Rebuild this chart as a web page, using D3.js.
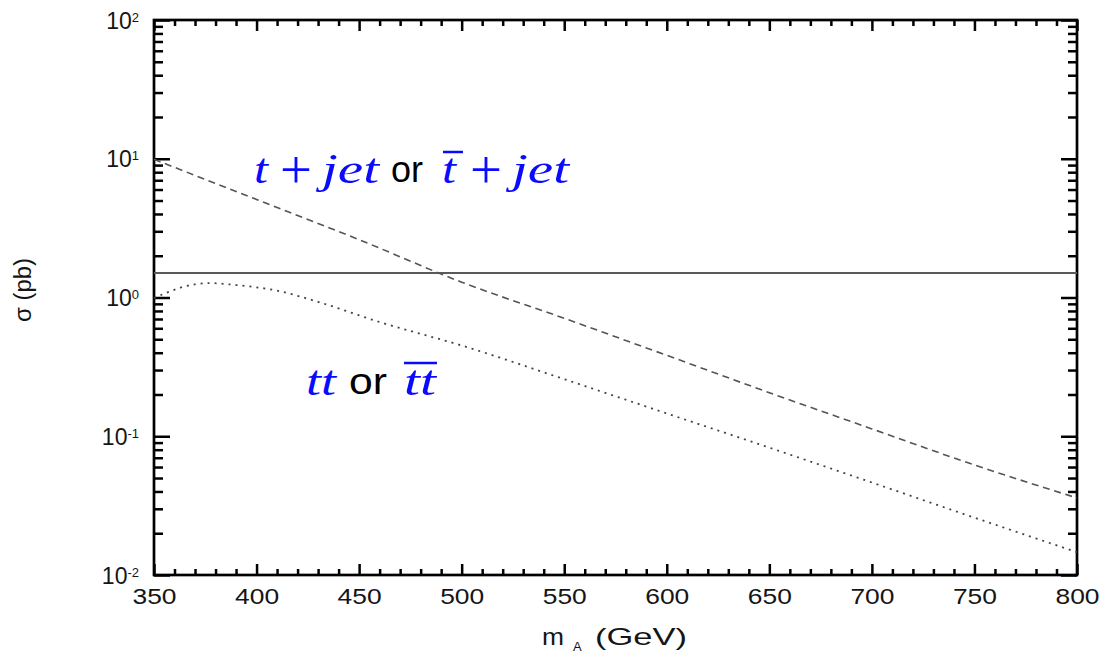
<!DOCTYPE html>
<html>
<head>
<meta charset="utf-8">
<script src="https://cdn.jsdelivr.net/npm/d3@7"></script>
<style>
	body { margin: 0; background: #fff; }
	svg { display: block; }
	text { font-family: "Liberation Sans", Arial, sans-serif; }
</style>
</head>
<body>
<svg id="plot" width="1101" height="656" viewBox="0 0 1101 656"></svg>
<script>

// t + jet (dashed)
const M_TJET = [350, 400, 450, 500, 550, 600, 650, 700, 750, 800];
const SIGMA_TJET = [9.9, 5.09, 2.61, 1.29, 0.708, 0.383, 0.206, 0.113, 0.0621, 0.0359];

// tt (dotted)
const M_TT = [350, 356, 364, 377, 390, 410, 430, 460, 500, 550, 600, 650, 700, 750, 800];
const SIGMA_TT = [0.99, 1.08, 1.19, 1.27, 1.23, 1.12, 0.93, 0.665, 0.451, 0.258, 0.146, 0.0828, 0.0464, 0.0259, 0.0146];

// horizontal reference line
const SIGMA_REF = 1.5;

const X_MAJOR = [350, 400, 450, 500, 550, 600, 650, 700, 750, 800];
const Y_EXPONENTS = [2, 1, 0, -1, -2];

const svg = d3.select('#plot');

const plot_left = 154, plot_right = 1077, plot_top = 20, plot_bottom = 575;

const x = d3.scaleLinear().domain([350, 800]).range([plot_left, plot_right]);
const y = d3.scaleLog().domain([0.01, 100]).range([plot_bottom, plot_top]);

// minor ticks
const x_minor = d3.range(350, 801, 10).filter(v => v % 50 !== 0);
const y_minor = [];
Y_EXPONENTS.slice(1).forEach(e => {
	for (let k = 2; k <= 9; k++) y_minor.push(k * Math.pow(10, e));
});
const y_major = Y_EXPONENTS.map(e => Math.pow(10, e));

function styleTicks(g) {
	g.select('.domain').remove();
	g.selectAll('.tick line').attr('stroke', '#000').attr('stroke-width', 2.5);
}

// bottom
svg.append('g').attr('transform', `translate(0,${plot_bottom})`)
	.call(d3.axisBottom(x).tickValues(x_minor).tickSize(-6).tickFormat(''))
	.call(styleTicks);
const xAxis = svg.append('g').attr('transform', `translate(0,${plot_bottom})`)
	.call(d3.axisBottom(x).tickValues(X_MAJOR).tickSize(-11).tickFormat(d3.format('d')))
	.call(styleTicks);
xAxis.selectAll('.tick text')
	.attr('y', 29).attr('dy', 0)
	.attr('fill', '#151515')
	.style('font-size', '22px')
	.attr('transform', 'scale(1.2,1)');

// top
svg.append('g').attr('transform', `translate(0,${plot_top})`)
	.call(d3.axisTop(x).tickValues(x_minor).tickSize(-6).tickFormat(''))
	.call(styleTicks);
svg.append('g').attr('transform', `translate(0,${plot_top})`)
	.call(d3.axisTop(x).tickValues(X_MAJOR).tickSize(-11).tickFormat(''))
	.call(styleTicks);

// left
svg.append('g').attr('transform', `translate(${plot_left},0)`)
	.call(d3.axisLeft(y).tickValues(y_minor).tickSize(-9).tickFormat(''))
	.call(styleTicks);
const yAxis = svg.append('g').attr('transform', `translate(${plot_left},0)`)
	.call(d3.axisLeft(y).tickValues(y_major).tickSize(-16).tickFormat(''))
	.call(styleTicks);
yAxis.selectAll('.tick text').remove();
yAxis.selectAll('.tick').each(function(d) {
	const t = d3.select(this).append('text')
		.attr('x', -15).attr('y', 8)
		.attr('text-anchor', 'end')
		.attr('fill', '#151515');
	t.append('tspan').style('font-size', '23px').text('10');
	t.append('tspan').style('font-size', '13px').attr('dy', -7)
		.text(Math.round(Math.log10(d)));
});

// right
svg.append('g').attr('transform', `translate(${plot_right},0)`)
	.call(d3.axisRight(y).tickValues(y_minor).tickSize(-9).tickFormat(''))
	.call(styleTicks);
svg.append('g').attr('transform', `translate(${plot_right},0)`)
	.call(d3.axisRight(y).tickValues(y_major).tickSize(-16).tickFormat(''))
	.call(styleTicks);

// frame
svg.append('rect')
	.attr('x', plot_left).attr('y', plot_top)
	.attr('width', plot_right - plot_left).attr('height', plot_bottom - plot_top)
	.attr('fill', 'none').attr('stroke', '#000').attr('stroke-width', 2.7);

// reference line
svg.append('line')
	.attr('x1', x(350)).attr('x2', x(800))
	.attr('y1', y(SIGMA_REF)).attr('y2', y(SIGMA_REF))
	.attr('stroke', '#5a5a5a').attr('stroke-width', 2);

const line = d3.line()
	.x(d => x(d.m))
	.y(d => y(d.s))
	.curve(d3.curveMonotoneX);

const tjet = M_TJET.map((m, i) => ({m: m, s: SIGMA_TJET[i]}));
const tt = M_TT.map((m, i) => ({m: m, s: SIGMA_TT[i]}));

svg.append('path').datum(tjet)
	.attr('d', line)
	.attr('fill', 'none')
	.attr('stroke', '#555')
	.attr('stroke-width', 1.6)
	.attr('stroke-dasharray', '7,4.7');

svg.append('path').datum(tt)
	.attr('d', line)
	.attr('fill', 'none')
	.attr('stroke', '#444')
	.attr('stroke-width', 1.8)
	.attr('stroke-dasharray', '2,5');

// annotations
const blue = '#0a0aff';
const mathFont = '"Liberation Serif", "DejaVu Serif", serif';

function piece(txt, px, py, opts) {
	const t = svg.append('text')
		.attr('x', px).attr('y', py)
		.attr('fill', opts.color)
		.style('font-family', opts.font)
		.style('font-size', opts.size + 'px')
		.style('font-style', opts.italic ? 'italic' : 'normal')
		.text(txt);
	if (opts.len) t.attr('textLength', opts.len).attr('lengthAdjust', 'spacingAndGlyphs');
	return t;
}
const mathIt = {color: blue, font: mathFont, size: 42, italic: true};
const plus = {color: blue, font: mathFont, size: 54, italic: false};
const word = {color: '#000', font: '"Liberation Sans", sans-serif', size: 36, italic: false};

// t + jet or tbar + jet
piece('t', 254, 183, Object.assign({}, mathIt, {len: 14}));
piece('+', 280, 188, Object.assign({}, plus, {len: 32}));
piece('jet', 322, 183, Object.assign({}, mathIt, {len: 57}));
piece('or', 391, 182, Object.assign({}, word, {len: 32}));
piece('t', 442, 183, Object.assign({}, mathIt, {len: 14}));
piece('+', 470, 188, Object.assign({}, plus, {len: 32}));
piece('jet', 512, 183, Object.assign({}, mathIt, {len: 57}));
svg.append('line').attr('x1', 443).attr('x2', 463).attr('y1', 152).attr('y2', 152)
	.attr('stroke', blue).attr('stroke-width', 2.5);

// tt or tt-bar
piece('tt', 306, 395, Object.assign({}, mathIt, {len: 30}));
piece('or', 349, 394, Object.assign({}, word, {len: 38}));
piece('tt', 404, 395, Object.assign({}, mathIt, {len: 32}));
svg.append('line').attr('x1', 404).attr('x2', 437).attr('y1', 363).attr('y2', 363)
	.attr('stroke', blue).attr('stroke-width', 2.5);

// axis titles
svg.append('text')
	.attr('transform', 'translate(31,290) rotate(-90)')
	.attr('text-anchor', 'middle')
	.attr('fill', '#151515')
	.style('font-size', '23px')
	.attr('textLength', 64).attr('lengthAdjust', 'spacingAndGlyphs')
	.text('σ (pb)');

svg.append('text').attr('x', 542).attr('y', 645)
	.attr('fill', '#151515').style('font-size', '24px')
	.attr('textLength', 22).attr('lengthAdjust', 'spacingAndGlyphs')
	.text('m');
svg.append('text').attr('x', 573).attr('y', 651)
	.attr('fill', '#151515').style('font-size', '13px')
	.text('A');
svg.append('text').attr('x', 595).attr('y', 645)
	.attr('fill', '#151515').style('font-size', '24px')
	.attr('textLength', 92).attr('lengthAdjust', 'spacingAndGlyphs')
	.text('(GeV)');

</script>
</body>
</html>
